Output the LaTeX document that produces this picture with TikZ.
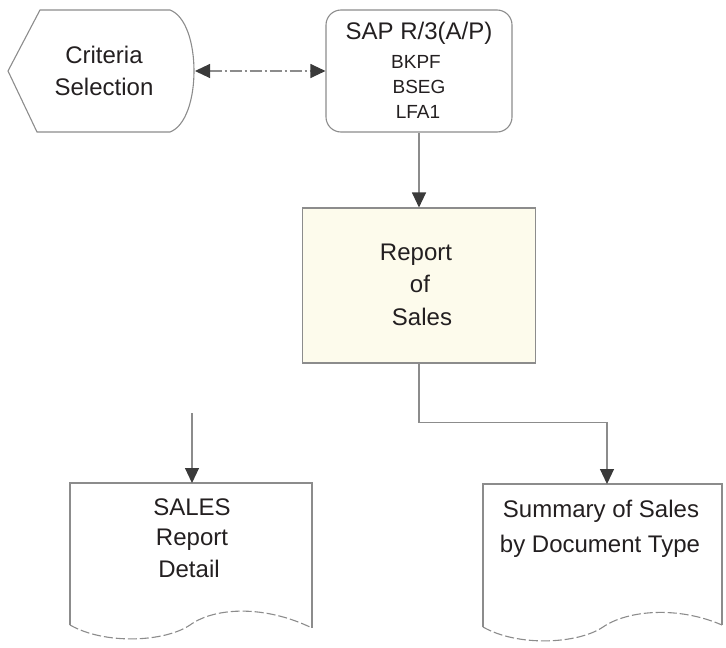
\documentclass[tikz,border=0pt]{standalone}
\usepackage{fontspec}
\setmainfont{Liberation Sans}
\usetikzlibrary{arrows.meta}
\definecolor{linec}{HTML}{8C8C8C}
\definecolor{headc}{HTML}{3A3A3A}
\definecolor{textc}{HTML}{231F20}
\definecolor{creamfill}{HTML}{FDFBEC}
\begin{document}
\begin{tikzpicture}[x=1pt,y=-1pt,
  outline/.style={draw=linec, line width=1.1pt},
  wavy/.style={draw=linec, line width=1.1pt, dash pattern=on 9pt off 3pt},
  tip/.tip={Triangle[length=15pt,width=14pt,color=headc,fill=headc]},
  conn/.style={draw=linec, line width=1.1pt, -tip},
  bigtxt/.style={font=\fontsize{24}{32}\selectfont, text=textc, anchor=base, inner sep=0pt},
  smalltxt/.style={font=\fontsize{19}{25}\selectfont, text=textc, anchor=base, inner sep=0pt},
  sapbox/.style={outline, rounded corners=15pt, minimum width=186pt, minimum height=122pt, inner sep=0pt},
  repbox/.style={outline, fill=creamfill, minimum width=233pt, minimum height=155pt, inner sep=0pt}
]
\useasboundingbox (0,0) rectangle (726,648);

% Criteria Selection (display shape)
\draw[outline] (40,10) -- (170,10) .. controls (202,22) and (202,120) .. (170,132) -- (37,132) -- (8,71) -- cycle;
\node[bigtxt] (crit1) at (104,63) {Criteria};
\node[bigtxt] (crit2) at (104,95) {Selection};
\coordinate (critE) at (195,71);

% SAP box
\node[sapbox] (sap) at (419,71) {};
\node[bigtxt] (sapt) at (419,39) {SAP R/3(A/P)};
\node[smalltxt] (bkpf) at (416,68) {BKPF};
\node[smalltxt] (bseg) at (419,93) {BSEG};
\node[smalltxt] (lfa) at (418,118) {LFA1};

% Report box
\node[repbox] (rep) at (419,285.5) {};
\node[bigtxt] (rep1) at (416,260) {Report};
\node[bigtxt] (rep2) at (420,292) {of};
\node[bigtxt] (rep3) at (422,325) {Sales};

% SALES Report Detail document
\draw[outline] (70,625) -- (70,483) -- (312,483) -- (312,628);
\draw[wavy] (70,625) .. controls (105,645) and (165,642) .. (190,625) .. controls (215,607) and (265,605) .. (312,628);
\node[bigtxt] (sal1) at (192,515) {SALES};
\node[bigtxt] (sal2) at (192,545) {Report};
\node[bigtxt] (sal3) at (189,577) {Detail};
\coordinate (salN) at (192,483);
\coordinate (freeL) at (192,413);

% Summary document
\draw[outline] (483,627) -- (483,484) -- (722,484) -- (722,625);
\draw[wavy] (483,627) .. controls (518,647) and (578,644) .. (603,627) .. controls (628,610) and (678,606) .. (722,625);
\node[bigtxt] (sum1) at (601,517) {Summary of Sales};
\node[bigtxt] (sum2) at (600,552) {by Document Type};
\coordinate (sumN) at (607,484);

% Connectors
\draw[conn, tip-tip, dash pattern=on 12pt off 3pt on 2pt off 3pt] (critE) -- (sap.west);
\draw[conn] (sap.south) -- (rep.north);
\draw[conn] (rep.south) -- ++(0,59) -| (sumN);
\draw[conn] (freeL) -- (salN);
\end{tikzpicture}
\end{document}
